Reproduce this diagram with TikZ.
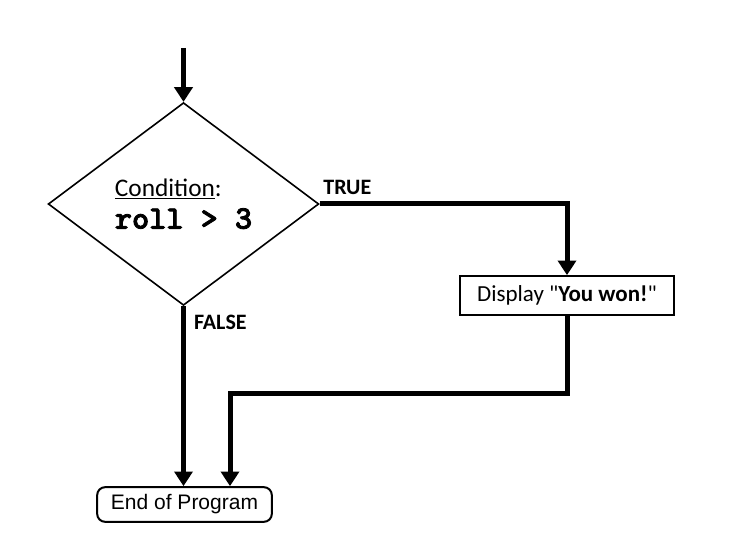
\documentclass[tikz,border=0pt]{standalone}
\usepackage{fontspec}
\setmainfont{Carlito}
\newfontfamily\arialfont{Liberation Sans}
\newfontfamily\codefont[FakeBold=2.5]{lmmonolt10-bold.otf}
\usetikzlibrary{shapes.geometric,arrows.meta,positioning,calc}

\begin{document}
\begin{tikzpicture}[
        x=0.75pt, y=-0.75pt,
        decision/.style={diamond, draw, line width=1.2pt, inner sep=0pt, minimum width=203pt, minimum height=152pt, align=left, font=\fontsize{19pt}{24pt}\selectfont},
        procbox/.style={rectangle, draw, line width=1.5pt, minimum width=161pt, minimum height=29pt, font=\fontsize{17.25pt}{20pt}\selectfont},
        endbox/.style={rectangle, draw, rounded corners=6pt, line width=1.5pt, minimum width=131pt, minimum height=26pt, font=\arialfont\fontsize{15.75pt}{18pt}\selectfont},
        flow/.style={-{Triangle[width=13.5pt,length=11pt]}, line width=3.75pt},
        lbl/.style={font=\bfseries\fontsize{16.5pt}{18pt}\selectfont, inner sep=0pt}
    ]
    \useasboundingbox (0,0) rectangle (746,556);

    % Decision
    \node[decision] (cond) at (183.5,204) {\underline{Condition}:\\{\codefont\fontsize{24.5pt}{24pt}\selectfont roll > 3}};

    % Output and end
    \node[procbox] (disp) at (567,295.5) {Display \textquotedbl\textbf{You won!}\textquotedbl};
    \node[endbox] (endp) at (184.5,504.5) {End of Program};

    % Free ends and bends
    \coordinate (start) at (183.5,48);
    \coordinate (merge) at (230,393);

    % Flow lines
    \draw[flow] (start) -- (cond.north);
    \draw[flow] (cond.east) -| node[lbl, pos=0, anchor=south west, xshift=1pt, yshift=5pt] {TRUE} (disp.north);
    \draw[flow] (cond.south) -- node[lbl, pos=0, anchor=north west, xshift=6pt, yshift=-5pt] {FALSE} (cond.south |- endp.north);
    \draw[flow] (disp.south) |- (merge) -- (merge |- endp.north);

\end{tikzpicture}
\end{document}
